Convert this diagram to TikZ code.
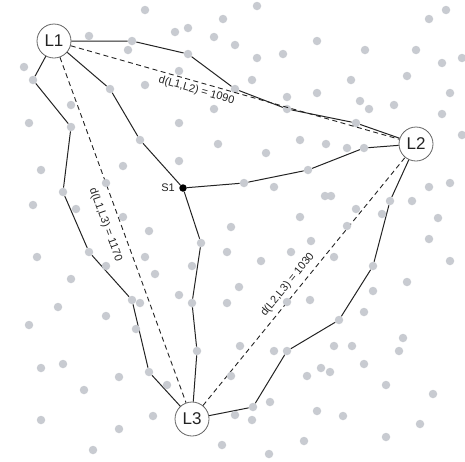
\documentclass[tikz,border=0pt]{standalone}
\usepackage{fontspec}
\setmainfont{Liberation Sans}
\usetikzlibrary{positioning}

\definecolor{dotgray}{RGB}{200,203,209}
\definecolor{inkgray}{RGB}{35,35,35}
\definecolor{rimgray}{RGB}{100,100,100}

\begin{document}
\begin{tikzpicture}[x=1pt, y=-1pt,
    site/.style={circle, fill=dotgray, inner sep=0pt, minimum size=8.5pt},
    hub/.style={circle, draw=rimgray, line width=0.8pt, fill=white, minimum size=34pt, inner sep=0pt, font=\fontsize{17}{17}\selectfont, text=inkgray},
    src/.style={circle, fill=black, inner sep=0pt, minimum size=7.5pt},
    route/.style={draw=inkgray, line width=1pt},
    direct/.style={draw=inkgray, line width=0.9pt, dash pattern=on 5pt off 3.5pt},
    dist/.style={font=\fontsize{11}{11}\selectfont, text=inkgray, inner sep=1pt, sloped},
]
\useasboundingbox (0,0) rectangle (465,461);

% Landmarks and source
\node[hub] (L1) at (54,41) {L1};
\node[hub] (L2) at (416,144) {L2};
\node[hub] (L3) at (192,419) {L3};
\node[src] (S1) at (183,188) {};
\node[font=\fontsize{11}{11}\selectfont, text=inkgray, inner sep=1pt, left=3pt of S1] (s1lab) {S1};

% Sites used by the routes
\foreach \n/\x/\y in {t1/132/41, t2/188/54, t3/235/89, t4/287/109, t5/356/123,
                      m1/110/89, m2/140/140,
                      r1/244/183, r2/308/170, r3/364/148,
                      s1/201/243, s2/192/303, s3/197/351,
                      w1/33/80, w2/71/127, w3/63/192, w4/89/252, w5/132/300, w6/149/372,
                      e1/390/201, e2/373/266, e3/339/320, e4/287/351, e5/253/407}
    \node[site] (\n) at (\x,\y) {};

% Direct distances
\draw[direct] (L1) -- node[dist, below=2pt, pos=0.39] (d12) {d(L1,L2) = 1090} (L2);
\draw[direct] (L1) -- node[dist, below=8pt, pos=0.47] (d13) {d(L1,L3) = 1170} (L3);
\draw[direct] (L3) -- node[dist, above=4pt, pos=0.46] (d23) {d(L2,L3) = 1030} (L2);

% Routes
\draw[route] (L1) -- (t1) -- (t2) -- (t3) -- (t4) -- (t5) -- (L2);
\draw[route] (L1) -- (m1) -- (m2) -- (S1);
\draw[route] (S1) -- (r1) -- (r2) -- (r3) -- (L2);
\draw[route] (S1) -- (s1) -- (s2) -- (s3) -- (L3);
\draw[route] (L1) -- (w1) -- (w2) -- (w3) -- (w4) -- (w5) -- (w6) -- (L3);
\draw[route] (L2) -- (e1) -- (e2) -- (e3) -- (e4) -- (e5) -- (L3);

% Other sites
\foreach \x/\y [count=\i] in {145/10, 89/36, 128/50, 24/67, 145/85, 71/105, 29/123,
    257/6, 223/19, 175/32, 188/28, 214/37, 235/45, 283/54, 257/58, 179/71, 252/80,
    287/97, 214/109, 179/123, 300/140, 218/144, 266/153,
    446/10, 429/19, 317/41, 365/50, 416/50, 442/63, 462/58, 351/80, 407/76, 317/93,
    360/101, 369/109, 394/105, 450/93, 442/114, 462/135, 326/144, 347/148,
    41/170, 123/166, 179/161, 106/183, 33/205, 76/209, 123/217, 149/231, 231/227,
    274/187, 300/217, 227/252, 261/261, 291/252, 192/266, 155/274, 239/287, 179/295,
    227/303, 287/302,
    325/196, 331/196, 356/209, 382/214, 412/201, 429/187, 450/183, 438/218, 347/226,
    311/241, 429/239, 334/257, 450/261, 407/282, 373/291, 310/300,
    37/257, 106/266, 145/257, 71/279, 140/303, 58/307,
    106/316, 29/325, 136/329, 41/368, 63/364, 119/377, 84/390, 41/420, 119/429,
    153/416, 93/450,
    240/346, 274/351, 307/376, 231/376, 167/385, 270/402, 235/415, 252/420, 222/445,
    269/454, 304/441,
    364/312, 403/338, 399/351, 334/346, 352/346, 364/364, 321/368, 330/372, 386/385,
    433/394, 317/411, 343/416, 420/424, 386/437}
    \node[site] (g\i) at (\x,\y) {};
\end{tikzpicture}
\end{document}
